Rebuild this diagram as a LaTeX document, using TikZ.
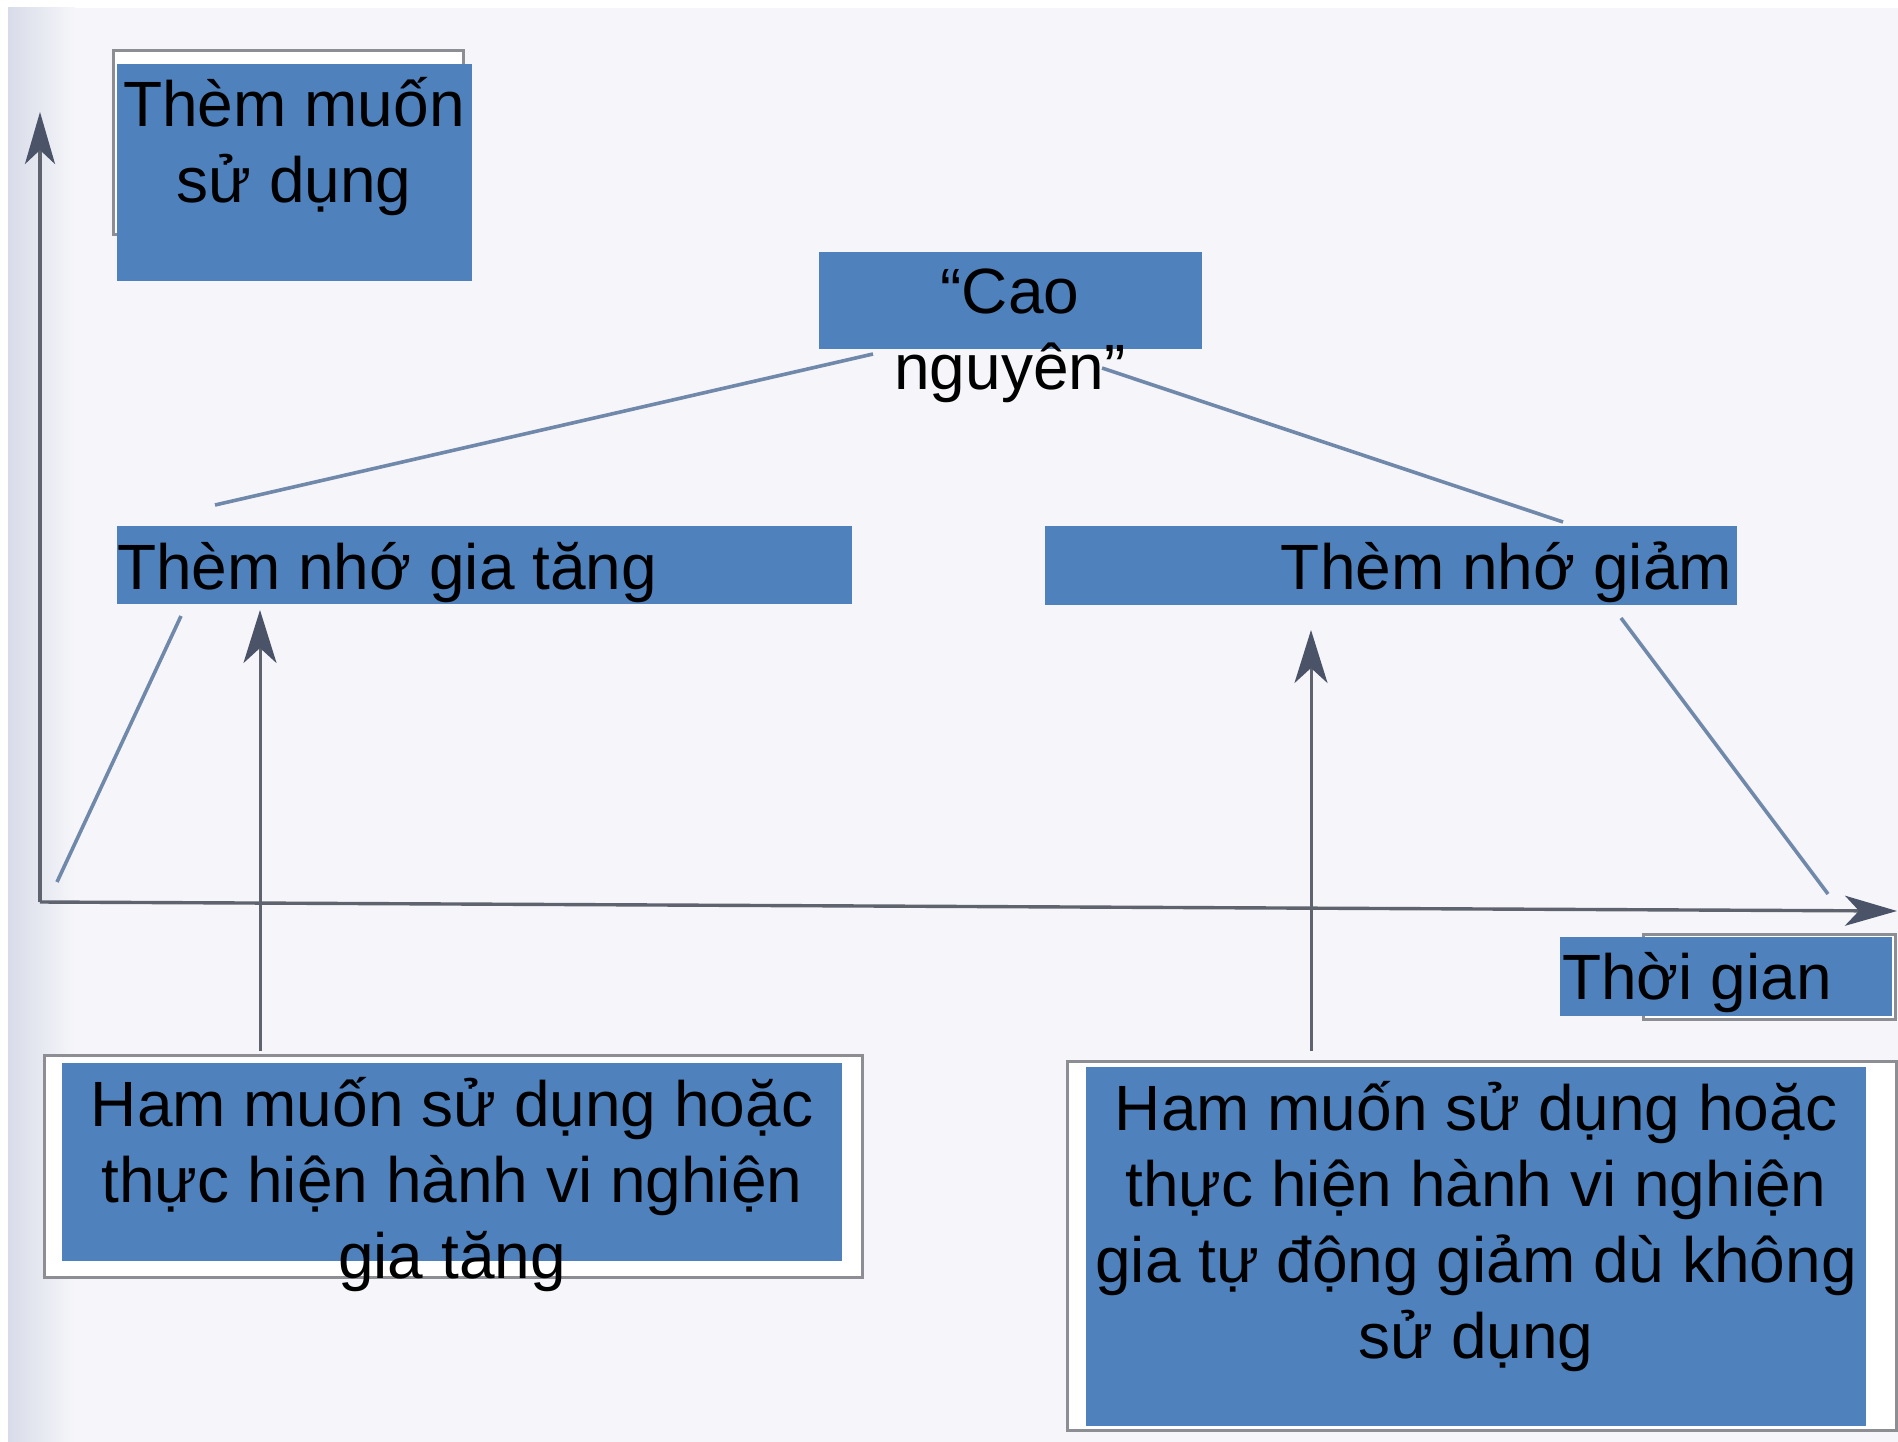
\documentclass[tikz,border=0pt]{standalone}
\usepackage{fontspec}
\setmainfont{Liberation Sans}
\usetikzlibrary{arrows.meta}
\definecolor{boxblue}{HTML}{4F81BD}
\definecolor{axisgray}{HTML}{5E636E}
\definecolor{headgray}{HTML}{4A5368}
\definecolor{linkblue}{HTML}{7088AA}
\definecolor{framegray}{HTML}{8C8E94}
\definecolor{paper}{HTML}{F6F6FA}
\definecolor{edgeband}{HTML}{D8DCE8}
\begin{document}
\begin{tikzpicture}[x=1pt,y=-1pt,
  bluebox/.style={fill=boxblue, draw=none, inner sep=0pt, outer sep=0pt, anchor=north west},
  framebox/.style={draw=framegray, line width=3pt, fill=white, inner sep=0pt, outer sep=0pt, anchor=north west},
  lbl/.style={inner sep=0pt, outer sep=0pt, font=\fontsize{64}{76}\selectfont, text=black},
  axisline/.style={draw=axisgray, line width=3.4pt, -{Stealth[length=52pt,width=30pt,inset=14pt,color=headgray]}},
  uparrow/.style={draw=axisgray, line width=3pt, -{Stealth[length=53pt,width=33pt,inset=15pt,color=headgray]}},
  linkline/.style={draw=linkblue, line width=3.6pt}
]
\useasboundingbox (0,0) rectangle (1898,1442);
% paper background
\fill[white] (0,0) rectangle (1898,1442);
\fill[paper] (8,8) rectangle (1898,1442);
\shade[left color=edgeband, right color=paper] (8,8) rectangle (75,1442);

% frames behind boxes
\node[framebox, minimum width=350pt, minimum height=184pt] (fTL) at (113,51) {};
\node[framebox, minimum width=252pt, minimum height=85pt] (fT) at (1643,934) {};
\node[framebox, minimum width=818pt, minimum height=222pt] (fL) at (44,1055) {};
\node[framebox, minimum width=829pt, minimum height=369pt] (fR) at (1067,1061) {};

% axes
\coordinate (O) at (40,902);
\coordinate (ytop) at (40,112);
\coordinate (xend) at (1897,911);
\draw[axisline] (O) -- (ytop);
\draw[axisline] (O) -- (xend);

% blue boxes
\node[bluebox, minimum width=354.5pt, minimum height=217pt] (desire) at (117,64) {};
\node[bluebox, minimum width=383pt, minimum height=97pt] (cao) at (819,252) {};
\node[bluebox, minimum width=735pt, minimum height=78pt] (tang) at (117,526) {};
\node[bluebox, minimum width=692pt, minimum height=79pt] (giam) at (1045,526) {};
\node[bluebox, minimum width=332pt, minimum height=79pt] (thoigian) at (1560,937) {};
\node[bluebox, minimum width=780pt, minimum height=198pt] (hamL) at (62,1063) {};
\node[bluebox, minimum width=780pt, minimum height=359pt] (hamR) at (1086,1067) {};

% connector end points
\coordinate (caoL) at (873,354);
\coordinate (tangTop) at (215,505);
\coordinate (caoR) at (1102,368);
\coordinate (giamTop) at (1563,522);
\coordinate (riseLow) at (57,882);
\coordinate (riseHigh) at (181,616);
\coordinate (upLbase) at (260,1051);
\coordinate (upLtip) at (260,610);
\coordinate (upRbase) at (1311,1051);
\coordinate (upRtip) at (1311,630);
\coordinate (fallHigh) at (1621,618);
\coordinate (fallLow) at (1828,894);

\draw[linkline] (caoL) -- (tangTop);
\draw[linkline] (caoR) -- (giamTop);
\draw[linkline] (riseLow) -- (riseHigh);
\draw[linkline] (fallHigh) -- (fallLow);
\draw[uparrow] (upLbase) -- (upLtip);
\draw[uparrow] (upRbase) -- (upRtip);

% texts
\node[lbl, align=center, anchor=north] (tDesire) at (294,63) {\rule{0pt}{64pt}Thèm muốn\\sử dụng};
\node[lbl, align=center, anchor=north] (tCao) at (1010,249) {\rule{0pt}{64pt}“Cao\\nguyên”};
\node[lbl, anchor=base west] (tTang) at (117,589) {Thèm nhớ gia tăng};
\node[lbl, anchor=base east] (tGiam) at (1732,589) {Thèm nhớ giảm};
\node[lbl, anchor=base west] (tThoi) at (1562,999) {Thời gian};
\node[lbl, align=center, anchor=north] (tHamL) at (452,1062) {\rule{0pt}{64pt}Ham muốn sử dụng hoặc\\thực hiện hành vi nghiện\\gia tăng};
\node[lbl, align=center, anchor=north] (tHamR) at (1476,1066) {\rule{0pt}{64pt}Ham muốn sử dụng hoặc\\thực hiện hành vi nghiện\\gia tự động giảm dù không\\sử dụng};
\end{tikzpicture}
\end{document}
